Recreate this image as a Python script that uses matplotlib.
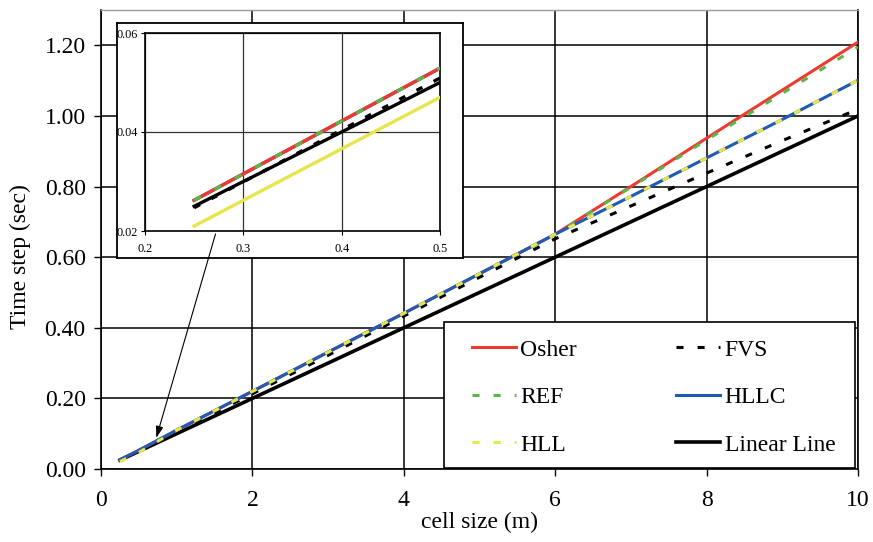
import matplotlib
matplotlib.use("Agg")
import matplotlib.pyplot as plt
from matplotlib.patches import Rectangle

plt.rcParams['font.family'] = ['Liberation Serif', 'DejaVu Serif']

# cell size (m)
cell_size = [0.25, 0.5, 1, 2, 3, 4, 5, 6, 7, 8, 9, 10]

# time step (sec) per scheme
osher = [0.0262, 0.0529, 0.110, 0.220, 0.331, 0.441, 0.553, 0.665, 0.800, 0.937, 1.073, 1.209]
ref = [0.0262, 0.0529, 0.110, 0.220, 0.331, 0.441, 0.553, 0.665, 0.798, 0.932, 1.064, 1.195]
fvs = [0.0247, 0.0509, 0.105, 0.213, 0.322, 0.433, 0.543, 0.652, 0.745, 0.838, 0.930, 1.019]
hllc = [0.0262, 0.0529, 0.110, 0.220, 0.331, 0.441, 0.553, 0.665, 0.772, 0.881, 0.990, 1.101]
hll = [0.0210, 0.0470, 0.110, 0.220, 0.331, 0.441, 0.553, 0.665, 0.772, 0.881, 0.990, 1.101]
linear = [0.025, 0.05, 0.1, 0.2, 0.3, 0.4, 0.5, 0.6, 0.7, 0.8, 0.9, 1.0]

x_ticks = [0, 2, 4, 6, 8, 10]
y_ticks = [0.0, 0.2, 0.4, 0.6, 0.8, 1.0, 1.2]

# zoomed window
zoom_x = [0.25, 0.5]
zoom_osher = osher[:2]
zoom_ref = ref[:2]
zoom_fvs = fvs[:2]
zoom_hllc = hllc[:2]
zoom_hll = hll[:2]
zoom_linear = linear[:2]
zoom_x_ticks = [0.2, 0.3, 0.4, 0.5]
zoom_y_ticks = [0.02, 0.04, 0.06]

RED = '#EE3A2E'
GREEN = '#5BB54A'
BLUE = '#1F5BB4'
YELLOW = '#E6E64A'
DASH = (0, (2.3, 4.6))
FS = 17

fig = plt.figure(figsize=(8.73, 5.42), dpi=100)
ax = fig.add_axes([101 / 873, 1 - 469 / 542, 757 / 873, 459 / 542])

LW = 2.2
ax.plot(cell_size, osher, color=RED, lw=LW, label='Osher', zorder=3)
ax.plot(cell_size, ref, color=GREEN, lw=LW, ls=DASH, label='REF', zorder=4)
ax.plot(cell_size, hll, color=YELLOW, lw=LW, ls=DASH, label='HLL', zorder=6)
ax.plot(cell_size, fvs, color='black', lw=LW, ls=DASH, label='FVS', zorder=2)
ax.plot(cell_size, hllc, color=BLUE, lw=LW, label='HLLC', zorder=5)
ax.plot(cell_size, linear, color='black', lw=2.6, label='Linear Line', zorder=2.5)

ax.set_xlim(0, 10)
ax.set_ylim(0, 1.3)
ax.set_xticks(x_ticks)
ax.set_xticklabels([f'{v:d}' for v in x_ticks])
ax.set_yticks(y_ticks)
ax.set_yticklabels([f'{v:.2f}' for v in y_ticks])
ax.tick_params(axis='both', direction='out', length=5, width=1, labelsize=FS, pad=6)
ax.tick_params(axis='x', pad=10)
ax.grid(True, color='black', lw=1.1, zorder=1)
ax.set_axisbelow(True)
for side in ['left', 'bottom', 'right']:
    ax.spines[side].set_color('black')
    ax.spines[side].set_linewidth(1.2)
ax.spines['top'].set_color('#9a9a9a')
ax.spines['top'].set_linewidth(1.0)

ax.set_xlabel('cell size (m)', fontsize=FS, labelpad=1)
ax.set_ylabel('Time step (sec)', fontsize=FS)
ax.yaxis.label.set_va('center')
ax.yaxis.set_label_coords(-0.107, 0.462)

# legend frame and entries
ax.add_patch(Rectangle((0.4531, 0.0022), 0.5429, 0.3181, transform=ax.transAxes,
                       facecolor='white', edgecolor='black', lw=1.2, zorder=9))
leg = ax.legend(ncol=2, loc='upper left', bbox_to_anchor=(0.4901, 0.283),
                fontsize=FS, frameon=False, handlelength=1.85, handletextpad=0.2,
                labelspacing=1.1, borderpad=0, borderaxespad=0, columnspacing=4.2)
leg.set_zorder(10)

# framed panel holding the zoomed view
box = fig.add_axes([117 / 873, 1 - 258 / 542, 346 / 873, 235 / 542])
box.set_xticks([])
box.set_yticks([])
box.set_facecolor('white')
for sp in box.spines.values():
    sp.set_color('black')
    sp.set_linewidth(1.3)

ins = fig.add_axes([145 / 873, 1 - 231 / 542, 295 / 873, 198 / 542])
ILW = 2.4
ins.plot(zoom_x, zoom_hllc, color=BLUE, lw=ILW, zorder=2)
ins.plot(zoom_x, zoom_hll, color=YELLOW, lw=ILW, zorder=3)
ins.plot(zoom_x, zoom_linear, color='black', lw=ILW, zorder=3)
ins.plot(zoom_x, zoom_fvs, color='black', lw=ILW, ls=(0, (2.0, 3.8)), zorder=4)
ins.plot(zoom_x, zoom_osher, color=RED, lw=ILW, zorder=5)
ins.plot(zoom_x, zoom_ref, color=GREEN, lw=ILW, ls=(0, (2.3, 4.6)), zorder=6)
ins.set_xlim(0.2, 0.5)
ins.set_ylim(0.02, 0.06)
ins.set_xticks(zoom_x_ticks)
ins.set_xticklabels([f'{v:.1f}' for v in zoom_x_ticks])
ins.set_yticks(zoom_y_ticks)
ins.set_yticklabels([f'{v:.2f}' for v in zoom_y_ticks])
ins.tick_params(axis='both', direction='out', length=3, width=0.8, labelsize=8.8, pad=2)
ins.tick_params(axis='x', pad=6)
ins.grid(True, color='#333333', lw=0.9, zorder=1)
ins.set_axisbelow(True)
for sp in ins.spines.values():
    sp.set_color('black')
    sp.set_linewidth(1.2)

# pointer from the zoomed view to the region it shows
ins.annotate('', xy=(0.73, 0.088), xycoords=ax.transData,
             xytext=(215.5 / 873, 1 - 234 / 542), textcoords='figure fraction',
             arrowprops=dict(arrowstyle='-|>,head_length=0.7,head_width=0.22',
                             lw=0.8, color='black', shrinkA=0, shrinkB=0),
             annotation_clip=False)

fig.savefig('out.png', dpi=100)
